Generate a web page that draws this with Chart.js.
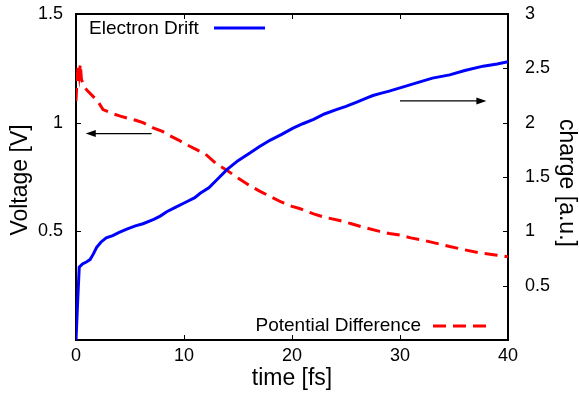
<!DOCTYPE html>
<html>
<head>
<meta charset="utf-8">
<script src="https://cdn.jsdelivr.net/npm/chart.js@4.4.0/dist/chart.umd.min.js"></script>
<style>
  body { margin: 0; background: #fff; }
  canvas { display: block; }
</style>
</head>
<body>
<canvas id="chart" width="579" height="395"></canvas>
<script>
// Electron drift (charge, right axis)
const driftTime = [0, 0.15, 0.3, 0.6, 1.0, 1.3, 1.6, 1.9, 2.3, 2.8, 3.4, 4.0, 4.7, 5.5, 6.2, 7.2, 7.8, 8.4, 9.2, 10.2,
    11.0, 11.5, 12.3, 13.0, 14.0, 15.0, 16.1, 17.0, 18.0, 19.0, 20.1, 21.0, 22.0, 23.0, 24.1, 25.0, 26.0, 27.0, 27.5, 28.2,
    29.0, 30.0, 31.0, 32.0, 33.0, 34.6, 36.0, 37.7, 39.0, 40.0];
const driftCharge = [0, 0.35, 0.67, 0.70, 0.72, 0.74, 0.79, 0.85, 0.90, 0.94, 0.96, 0.99, 1.02, 1.05, 1.07, 1.11, 1.14, 1.18, 1.22, 1.27,
    1.31, 1.35, 1.40, 1.47, 1.57, 1.65, 1.72, 1.78, 1.84, 1.89, 1.95, 1.99, 2.03, 2.08, 2.12, 2.15, 2.19, 2.23, 2.25, 2.27,
    2.29, 2.32, 2.35, 2.38, 2.41, 2.44, 2.48, 2.52, 2.54, 2.56];

// Potential difference (voltage, left axis)
const potTime = [0, 0.1, 0.2, 0.3, 0.4, 0.5, 0.7, 1.0, 1.6, 2.0, 2.5, 3.0, 3.5, 4.1, 4.8, 5.6, 6.2, 7.2, 8.0, 8.7,
    9.5, 10.2, 11.2, 12.0, 13.0, 14.0, 15.0, 16.1, 17.0, 18.0, 19.0, 20.0, 20.7, 22.0, 23.0, 24.4, 25.5, 26.5, 28.1, 29.0,
    30.0, 31.0, 32.5, 34.6, 36.0, 37.5, 39.0, 40.0];
const potVoltage = [1.10, 1.20, 1.26, 1.22, 1.27, 1.20, 1.17, 1.15, 1.12, 1.10, 1.06, 1.05, 1.04, 1.03, 1.02, 1.01, 1.00, 0.975, 0.96, 0.94,
    0.92, 0.90, 0.875, 0.855, 0.81, 0.78, 0.745, 0.71, 0.685, 0.66, 0.635, 0.615, 0.605, 0.58, 0.565, 0.55, 0.535, 0.52, 0.50, 0.49,
    0.483, 0.47, 0.455, 0.43, 0.415, 0.40, 0.39, 0.383];

const xTicks = [0, 10, 20, 30, 40];
const voltTicks = [0.5, 1, 1.5];
const chargeTicks = [0.5, 1, 1.5, 2, 2.5, 3];

// arrows: [fromTime, toTime, voltage]
const leftArrow = [7, 0.9, 0.95];
const rightArrow = [30, 38, 1.10];

const FONT = '"Liberation Sans", Arial, sans-serif';

function toPoints(xs, ys) {
    return xs.map((x, i) => ({ x: x, y: ys[i] }));
}

function drawArrow(ctx, x1, y1, x2, y2) {
    const dir = Math.sign(x2 - x1);
    ctx.beginPath();
    ctx.moveTo(x1, y1);
    ctx.lineTo(x2 - dir * 8, y2);
    ctx.stroke();
    ctx.beginPath();
    ctx.moveTo(x2, y2);
    ctx.lineTo(x2 - dir * 10, y2 - 3.5);
    ctx.lineTo(x2 - dir * 10, y2 + 3.5);
    ctx.closePath();
    ctx.fill();
}

// keep the plot box where it is, regardless of tick label overflow
function noPad(s) {
    s.paddingTop = 0; s.paddingBottom = 0;
    s.paddingLeft = 0; s.paddingRight = 0;
}

const decorPlugin = {
    id: 'decor',
    beforeDatasetsDraw(chart) {
        const ctx = chart.ctx;
        const a = chart.chartArea;
        const x = chart.scales.x, y = chart.scales.y, y2 = chart.scales.y2;
        ctx.save();
        ctx.strokeStyle = '#000';
        ctx.lineWidth = 2;
        ctx.strokeRect(a.left, a.top, a.right - a.left, a.bottom - a.top);
        ctx.lineWidth = 1;
        const tl = 5;
        ctx.beginPath();
        xTicks.forEach(v => {
            const px = Math.round(x.getPixelForValue(v)) + 0.5;
            ctx.moveTo(px, a.bottom); ctx.lineTo(px, a.bottom - tl);
            ctx.moveTo(px, a.top); ctx.lineTo(px, a.top + tl);
        });
        voltTicks.forEach(v => {
            const py = Math.round(y.getPixelForValue(v)) + 0.5;
            ctx.moveTo(a.left, py); ctx.lineTo(a.left + tl, py);
        });
        chargeTicks.forEach(v => {
            const py = Math.round(y2.getPixelForValue(v)) + 0.5;
            ctx.moveTo(a.right, py); ctx.lineTo(a.right - tl, py);
        });
        ctx.stroke();

        // arrows
        ctx.lineWidth = 1.3;
        ctx.fillStyle = '#000';
        drawArrow(ctx, x.getPixelForValue(leftArrow[0]), y.getPixelForValue(leftArrow[2]),
            x.getPixelForValue(leftArrow[1]), y.getPixelForValue(leftArrow[2]));
        drawArrow(ctx, x.getPixelForValue(rightArrow[0]), y.getPixelForValue(rightArrow[2]),
            x.getPixelForValue(rightArrow[1]), y.getPixelForValue(rightArrow[2]));
        ctx.restore();
    },
    afterDraw(chart) {
        const ctx = chart.ctx;
        const a = chart.chartArea;
        ctx.save();
        ctx.fillStyle = '#000';
        ctx.textBaseline = 'middle';

        // legend
        ctx.font = '19px ' + FONT;
        ctx.textAlign = 'left';
        ctx.fillText('Electron Drift', a.left + 13, a.top + 15);
        ctx.strokeStyle = '#0000ff';
        ctx.lineWidth = 3;
        ctx.beginPath();
        ctx.moveTo(a.left + 138, a.top + 14);
        ctx.lineTo(a.left + 189, a.top + 14);
        ctx.stroke();

        ctx.textAlign = 'right';
        ctx.fillText('Potential Difference', 421, a.bottom - 14);
        ctx.strokeStyle = '#ff0000';
        ctx.setLineDash([13, 7]);
        ctx.beginPath();
        ctx.moveTo(433, a.bottom - 14);
        ctx.lineTo(486, a.bottom - 14);
        ctx.stroke();
        ctx.setLineDash([]);

        // axis titles
        ctx.font = '23px ' + FONT;
        ctx.textAlign = 'center';
        ctx.fillText('time [fs]', (a.left + a.right) / 2, 379);

        ctx.save();
        ctx.translate(21, 180);
        ctx.rotate(-Math.PI / 2);
        ctx.fillText('Voltage [V]', 0, 0);
        ctx.restore();

        ctx.save();
        ctx.translate(566, 183);
        ctx.rotate(Math.PI / 2);
        ctx.fillText('charge [a.u.]', 0, 0);
        ctx.restore();
        ctx.restore();
    }
};

const tickFont = { family: FONT, size: 18 };

new Chart(document.getElementById('chart'), {
    type: 'line',
    data: {
        datasets: [
            {
                label: 'Electron Drift',
                data: toPoints(driftTime, driftCharge),
                yAxisID: 'y2',
                borderColor: '#0000ff',
                borderWidth: 3,
                pointRadius: 0,
                tension: 0
            },
            {
                label: 'Potential Difference',
                data: toPoints(potTime, potVoltage),
                yAxisID: 'y',
                borderColor: '#ff0000',
                borderWidth: 3,
                borderDash: [13, 7],
                pointRadius: 0,
                tension: 0
            }
        ]
    },
    options: {
        responsive: false,
        animation: false,
        layout: { padding: { top: 14, right: 0, left: 0, bottom: 0 } },
        plugins: { legend: { display: false }, tooltip: { enabled: false } },
        scales: {
            x: {
                type: 'linear',
                min: 0, max: 40,
                grid: { display: false, drawTicks: false },
                border: { display: false },
                ticks: { stepSize: 10, color: '#000', font: tickFont, padding: 5, maxRotation: 0 },
                afterFit: s => { s.height = 55; noPad(s); }
            },
            y: {
                position: 'left',
                min: 0, max: 1.5,
                grid: { display: false, drawTicks: false },
                border: { display: false },
                ticks: {
                    stepSize: 0.5, color: '#000', font: tickFont, padding: 13,
                    callback: v => v === 0 ? '' : v
                },
                afterFit: s => { s.width = 76; noPad(s); }
            },
            y2: {
                position: 'right',
                min: 0, max: 3,
                grid: { display: false, drawTicks: false },
                border: { display: false },
                ticks: {
                    stepSize: 0.5, color: '#000', font: tickFont, padding: 17,
                    callback: v => v === 0 ? '' : v
                },
                afterFit: s => { s.width = 71; noPad(s); }
            }
        }
    },
    plugins: [decorPlugin]
});
</script>
</body>
</html>
